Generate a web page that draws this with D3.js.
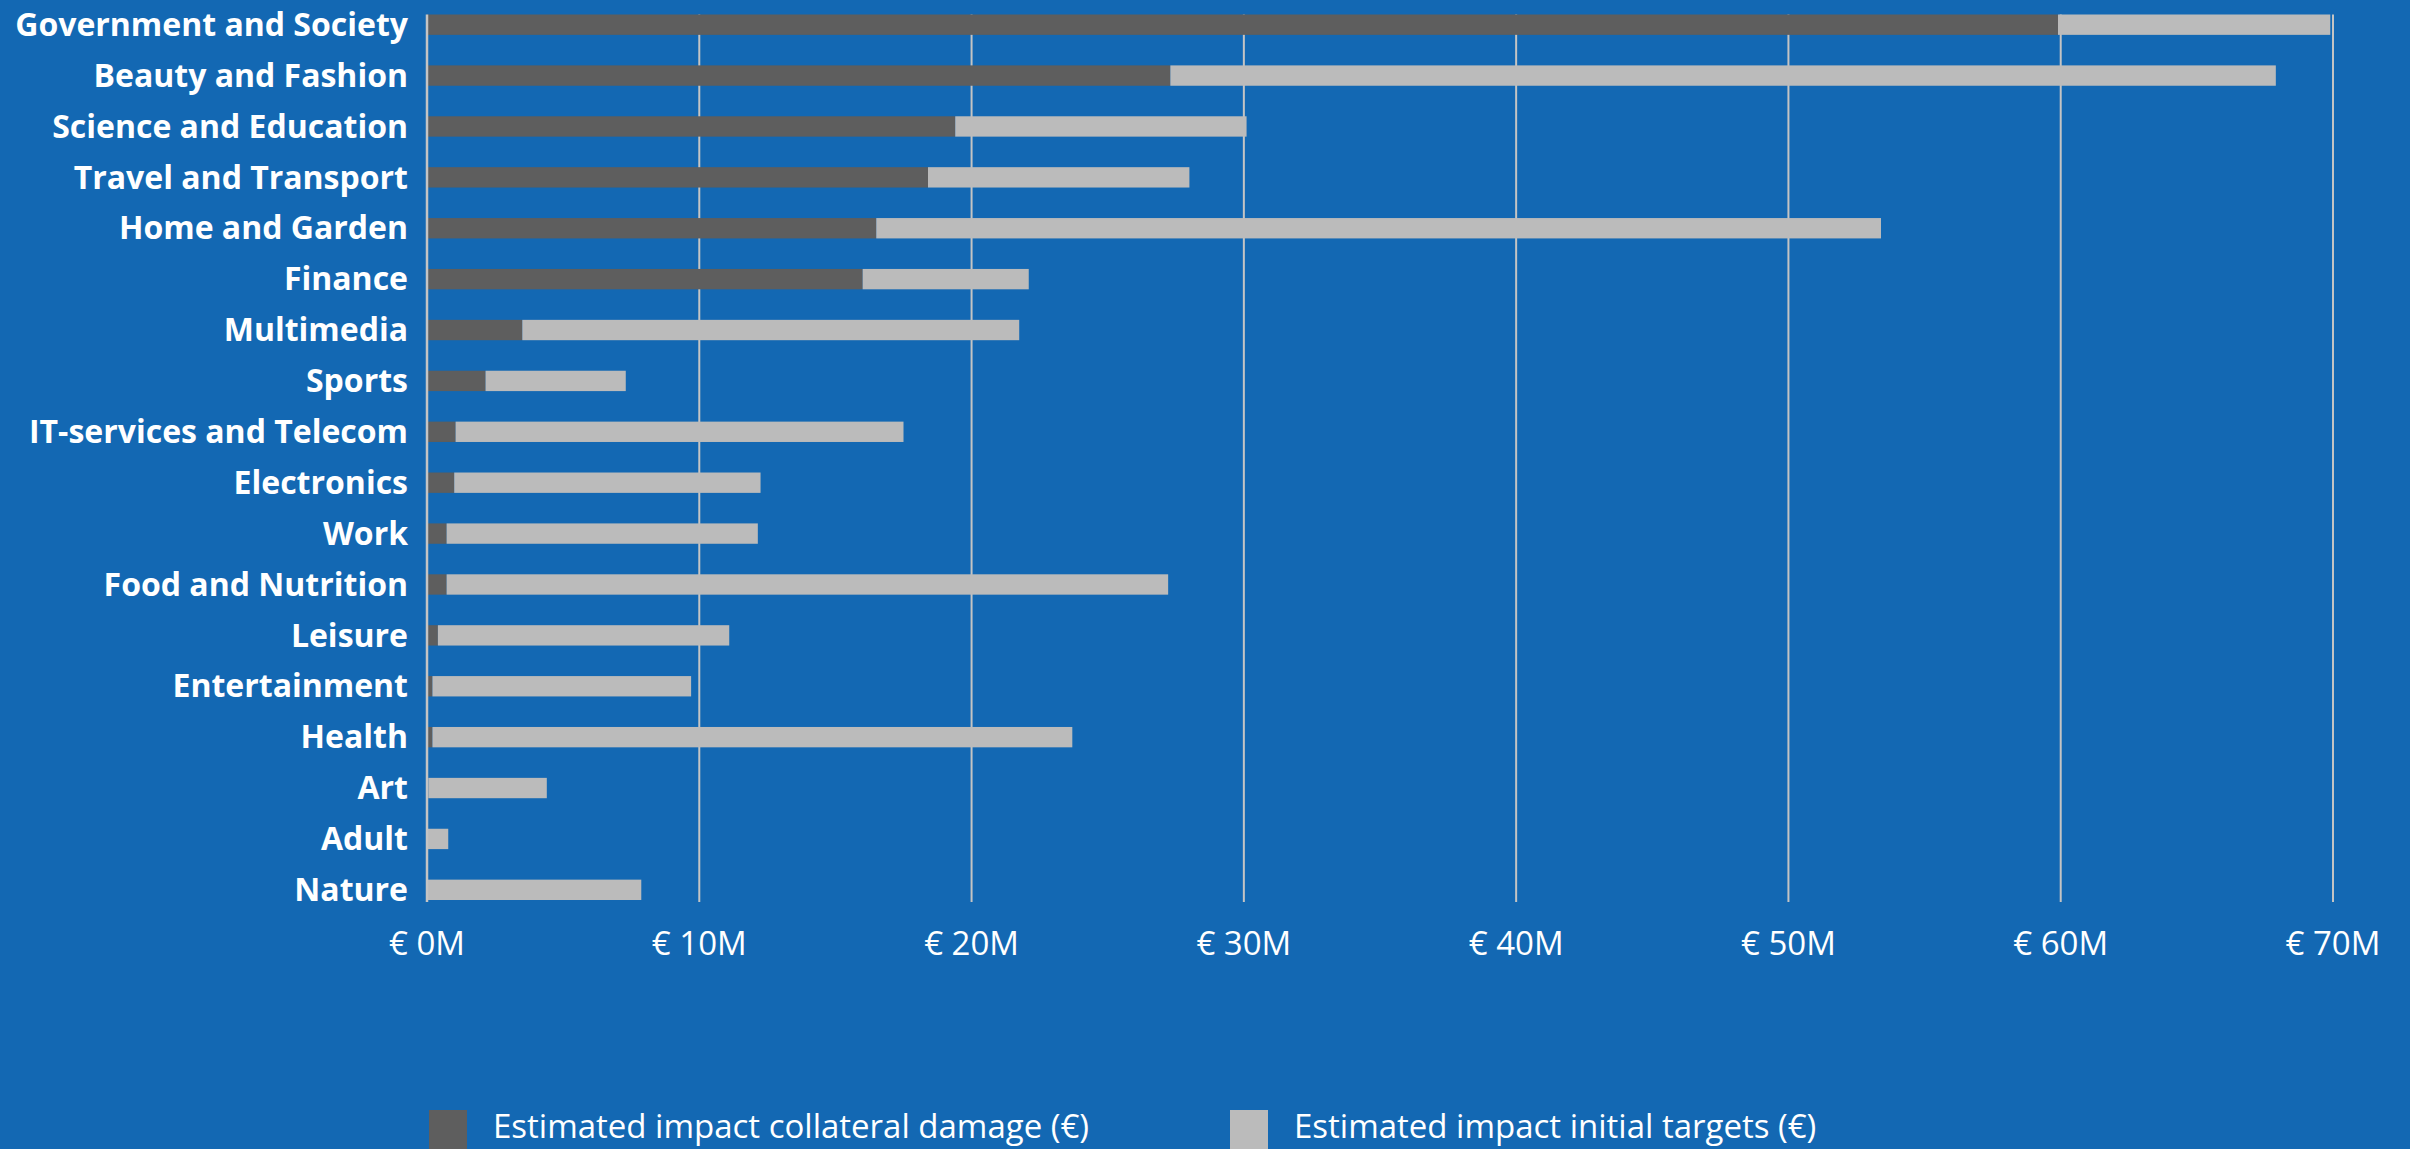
<!DOCTYPE html>
<html>
<head>
<meta charset="utf-8">
<script src="https://cdn.jsdelivr.net/npm/d3@7"></script>
<style>
  html, body { margin: 0; padding: 0; background: #1368b3; }
  #chart { width: 2410px; height: 1149px; }
  text { font-family: "Open Sans", "Noto Sans", sans-serif; fill: #fff; }
</style>
</head>
<body>
<div id="chart"></div>
<script>
// categories top to bottom
const categories = [
  "Government and Society", "Beauty and Fashion", "Science and Education",
  "Travel and Transport", "Home and Garden", "Finance", "Multimedia", "Sports",
  "IT-services and Telecom", "Electronics", "Work", "Food and Nutrition",
  "Leisure", "Entertainment", "Health", "Art", "Adult", "Nature"
];
// millions of euro
const collateral = [59.9, 27.3, 19.4, 18.4, 16.5, 16.0, 3.5, 2.15, 1.05, 1.0, 0.72, 0.72, 0.4, 0.2, 0.2, 0.05, 0.02, 0.02];
const initial = [10.0, 40.6, 10.7, 9.6, 36.9, 6.1, 18.25, 5.15, 16.45, 11.25, 11.43, 26.5, 10.7, 9.5, 23.5, 4.35, 0.76, 7.85];
const xTicks = [0, 10, 20, 30, 40, 50, 60, 70];
const seriesNames = ["Estimated impact collateral damage (€)", "Estimated impact initial targets (€)"];
const seriesColors = ["#5e5e5e", "#bbbbbb"];

const fullWidth = 2410;
const fullHeight = 1149;
const margin = { top: 14.5, right: 77, bottom: 249, left: 427 };
const width = fullWidth - margin.left - margin.right;
const height = fullHeight - margin.top - margin.bottom;

const rows = categories.map((c, i) => ({ category: c, collateral: collateral[i], initial: initial[i] }));
const stack = d3.stack().keys(["collateral", "initial"])(rows);

const svg = d3.select("#chart")
  .append("svg")
  .attr("width", fullWidth)
  .attr("height", fullHeight);

svg.append("rect")
  .attr("width", fullWidth)
  .attr("height", fullHeight)
  .attr("fill", "#1368b3");

const g = svg.append("g")
  .attr("transform", `translate(${margin.left},${margin.top})`);

const x = d3.scaleLinear()
  .domain([0, 70])
  .range([0, width]);

const y = d3.scaleBand()
  .domain(categories)
  .range([0, height])
  .paddingInner(0.6)
  .paddingOuter(0);

// gridlines
g.append("g")
  .selectAll("line")
  .data(xTicks.slice(1))
  .enter()
  .append("line")
  .attr("x1", d => x(d))
  .attr("x2", d => x(d))
  .attr("y1", 0)
  .attr("y2", height + 2)
  .attr("stroke", "#c4c4c4")
  .attr("stroke-width", 2);

// bars
g.append("g")
  .selectAll("g")
  .data(stack)
  .enter()
  .append("g")
  .attr("fill", (d, i) => seriesColors[i])
  .selectAll("rect")
  .data(d => d)
  .enter()
  .append("rect")
  .attr("x", d => x(d[0]))
  .attr("y", d => y(d.data.category))
  .attr("width", d => x(d[1]) - x(d[0]))
  .attr("height", y.bandwidth());

// y axis line
g.append("line")
  .attr("x1", 0)
  .attr("x2", 0)
  .attr("y1", 0)
  .attr("y2", height + 2)
  .attr("stroke", "#c4c4c4")
  .attr("stroke-width", 2.5);

// category labels
g.append("g")
  .selectAll("text")
  .data(categories)
  .enter()
  .append("text")
  .attr("x", -19)
  .attr("y", d => y(d) + y.bandwidth() / 2)
  .attr("dy", "0.35em")
  .style("text-anchor", "end")
  .style("font-weight", "bold")
  .style("font-size", "32px")
  .text(d => d);

// x tick labels
g.append("g")
  .selectAll("text")
  .data(xTicks)
  .enter()
  .append("text")
  .attr("x", d => x(d))
  .attr("y", 955 - margin.top)
  .style("text-anchor", "middle")
  .style("font-size", "33px")
  .text(d => `€ ${d}M`);

// legend
const legendX = [429, 1230];
const legend = svg.append("g");
seriesNames.forEach((name, i) => {
  legend.append("rect")
    .attr("x", legendX[i])
    .attr("y", 1110)
    .attr("width", 38)
    .attr("height", 39)
    .attr("fill", seriesColors[i]);
  legend.append("text")
    .attr("x", legendX[i] + 64)
    .attr("y", 1138)
    .style("font-size", "33px")
    .text(name);
});
</script>
</body>
</html>
